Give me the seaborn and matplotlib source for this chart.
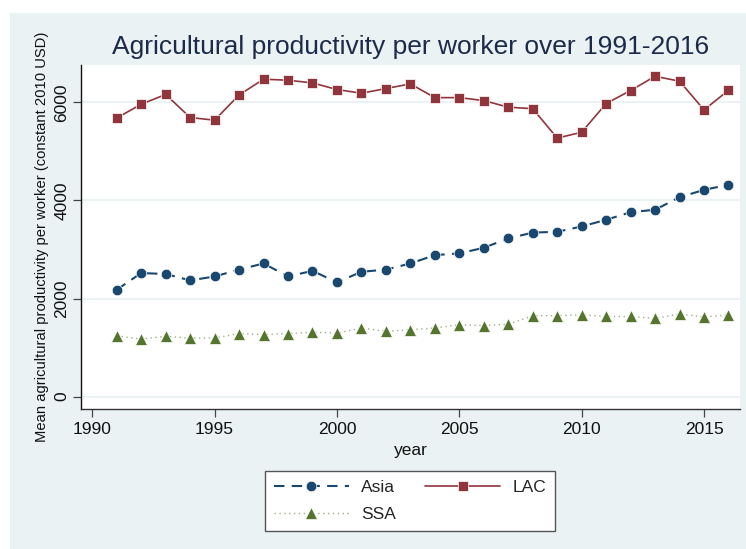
import matplotlib
matplotlib.use("Agg")
import matplotlib.pyplot as plt
from matplotlib.patches import Rectangle
from matplotlib.lines import Line2D
import seaborn as sns
import pandas as pd

years = list(range(1991, 2017))
asia = [2180, 2520, 2500, 2370, 2450, 2590, 2715, 2450, 2565, 2330, 2545, 2590, 2715,
        2885, 2920, 3035, 3225, 3345, 3360, 3470, 3605, 3760, 3810, 4065, 4215, 4320]
lac = [5680, 5960, 6160, 5690, 5635, 6150, 6470, 6450, 6395, 6260, 6185, 6280, 6375,
       6095, 6095, 6035, 5900, 5870, 5270, 5390, 5975, 6240, 6530, 6430, 5845, 6245]
ssa = [1240, 1175, 1230, 1195, 1195, 1285, 1265, 1285, 1315, 1295, 1400, 1330, 1365,
       1400, 1465, 1450, 1475, 1650, 1650, 1670, 1635, 1635, 1595, 1685, 1625, 1665]
series_names = ["Asia", "LAC", "SSA"]
xticks = [1990, 1995, 2000, 2005, 2010, 2015]
yticks = [0, 2000, 4000, 6000]
title = "Agricultural productivity per worker over 1991-2016"
ylabel = "Mean agricultural productivity per worker (constant 2010 USD)"
xlabel = "year"

df = pd.DataFrame({"year": years, "Asia": asia, "LAC": lac, "SSA": ssa})

sns.set_theme(style="white")
plt.rcParams["font.family"] = ["Liberation Sans", "DejaVu Sans"]

BG = "#eaf2f3"
NAVY = "#1a476f"
MAROON = "#90353b"
GREEN = "#55752f"
SSA_LINE = "#9fb08a"

fig = plt.figure(figsize=(7.46, 5.49), dpi=100, facecolor="white")
fig.patches.append(Rectangle((10 / 746, 0), 1 - 10 / 746, 1 - 13 / 549,
                             transform=fig.transFigure, facecolor=BG,
                             edgecolor="none", zorder=-10))
ax = fig.add_axes([81 / 746, 1 - 409 / 549, (740 - 81) / 746, (409 - 65) / 549])
ax.set_facecolor("white")

styles = {
    "Asia": dict(color=NAVY, marker="o", markersize=7.6, linewidth=1.5,
                 dashes=(5, 3.5), mfc=NAVY),
    "LAC": dict(color=MAROON, marker="s", markersize=7.0, linewidth=1.2,
                dashes=None, mfc=MAROON),
    "SSA": dict(color=SSA_LINE, marker="^", markersize=9.0, linewidth=1.0,
                dashes=(1, 2.5), mfc=GREEN),
}

handles = {}
for name in series_names:
    st = styles[name]
    sns.lineplot(data=df, x="year", y=name, ax=ax, color=st["color"],
                 marker=st["marker"], markersize=st["markersize"],
                 linewidth=st["linewidth"], markerfacecolor=st["mfc"],
                 markeredgecolor="white", markeredgewidth=0.5)
    line = ax.get_lines()[-1]
    if st["dashes"] is not None:
        line.set_dashes(st["dashes"])
    h = Line2D([], [], color=st["color"], marker=st["marker"],
               markersize=st["markersize"], linewidth=st["linewidth"],
               markerfacecolor=st["mfc"], markeredgecolor="white",
               markeredgewidth=0.5)
    if st["dashes"] is not None:
        h.set_dashes(st["dashes"])
    handles[name] = h

ax.set_xlim(1989.54, 2016.47)
ax.set_ylim(-251, 6760)
ax.set_xticks(xticks)
ax.set_yticks(yticks)
ax.yaxis.grid(True, color=BG, linewidth=1.5)
ax.set_axisbelow(True)

for s in ["top", "right"]:
    ax.spines[s].set_visible(False)
ax.spines["left"].set_color("#111111")
ax.spines["bottom"].set_color("#333333")
ax.spines["left"].set_linewidth(1.0)
ax.spines["bottom"].set_linewidth(1.0)

ax.tick_params(axis="both", which="major", direction="out", length=5.5, width=0.9,
               color="#444444", labelsize=12.5, labelcolor="#111111", pad=3)
ax.tick_params(axis="x", bottom=True, pad=4)
ax.tick_params(axis="y", left=True, labelrotation=90)
for lab in ax.get_yticklabels():
    lab.set_verticalalignment("center")

ax.set_xlabel(xlabel, fontsize=12.5, color="#111111", labelpad=4)
ax.set_ylabel(ylabel, fontsize=10.6, color="#111111", labelpad=4)

fig.text((81 + 740) / 2 / 746, 1 - 47 / 549, title, ha="center", va="center",
         fontsize=19, color="#1c2b4a")

order = ["Asia", "SSA", "LAC"]
leg = ax.legend([handles[n] for n in order], order,
                ncol=2, loc="center", bbox_to_anchor=(410 / 746, 1 - 501 / 549),
                bbox_transform=fig.transFigure, frameon=True, fancybox=False,
                edgecolor="#555555", facecolor="white", framealpha=1,
                fontsize=12.5, handlelength=4.3, handletextpad=0.7,
                columnspacing=1.7, borderpad=0.5, labelspacing=0.7)
leg.get_frame().set_linewidth(1.0)

fig.savefig("out.png", dpi=100, facecolor="white")
